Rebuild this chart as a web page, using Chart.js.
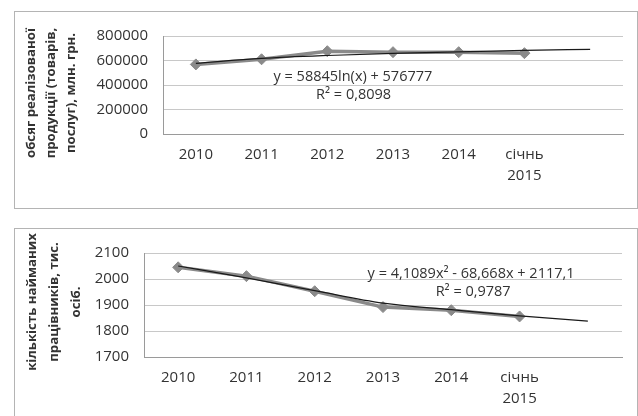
<html><head><meta charset="UTF-8">
<title>Обсяг продукції та кількість працівників</title>
<script src="https://cdn.jsdelivr.net/npm/chart.js"></script>
<style>
body {
  margin: 0;
  width: 638px;
  height: 416px;
  overflow: hidden;
  background: #ffffff;
  position: relative;
  font-family: 'Open Sans', sans-serif;
}
.box {
  position: absolute;
  left: 14px;
  width: 622px;
  border: 1px solid #b4b4b4;
  background: white;
}
#box1 { top: 11px; height: 196px; }
#box2 { top: 228px; height: 200px; }
canvas { display: block; }
</style>
</head>
<body>
<div class="box" id="box1"><canvas id="salesChart" width="622" height="196"></canvas></div>
<div class="box" id="box2"><canvas id="staffChart" width="622" height="188"></canvas></div>

<script>
// categories (last one is the forecast slot for the trend line)
const years = ['2010', '2011', '2012', '2013', '2014', ['січнь', '2015'], ''];

// top chart: sales volume, mln UAH
const salesValues = [568000, 610000, 676000, 668000, 668000, 660000, null];
const salesTrend = [577000, 617000, 641000, 658000, 671000, 682000, 691000];
const salesTicks = { min: 0, max: 800000, step: 200000 };
const salesTitle = ['обсяг реалізованої', 'продукції (товарів,', 'послуг), млн. грн.'];
const salesEq = ['y = 58845ln(x) + 576777', 'R² = 0,8098'];

// bottom chart: hired workers, thousand persons
const staffValues = [2045, 2011, 1953, 1892, 1880, 1856, null];
const staffTrend = [2050, 2004, 1955, 1907, 1882, 1858, 1838];
const staffTicks = { min: 1700, max: 2100, step: 100 };
const staffTitle = ['кількість найманих', 'працівників, тис.', 'осіб.'];
const staffEq = ['y = 4,1089x² - 68,668x + 2117,1', 'R² = 0,9787'];

const textColor = '#333333';

// draws rotated y title and the trend equation text
const extraText = {
  id: 'extraText',
  afterDraw(chart, args, opts) {
    const ctx = chart.ctx;
    const x = chart.scales.x, y = chart.scales.y;
    ctx.save();
    ctx.fillStyle = textColor;
    ctx.textAlign = 'center';
    ctx.textBaseline = 'middle';

    ctx.font = 'bold 13.2px "Open Sans"';
    opts.title.forEach((line, i) => {
      ctx.save();
      ctx.translate(opts.titleX + i * opts.titleGap, opts.titleY);
      ctx.rotate(-Math.PI / 2);
      ctx.fillText(line, 0, 0);
      ctx.restore();
    });

    ctx.font = '14.5px "Open Sans"';
    opts.eq.forEach((line, i) => {
      const p = opts.eqPos[i];
      ctx.fillText(line, x.getPixelForValue(p[0]), y.getPixelForValue(p[1]));
    });
    ctx.restore();
  }
};

function makeChart(id, values, trend, ticks, opt) {
  return new Chart(document.getElementById(id), {
    type: 'line',
    data: {
      labels: years,
      datasets: [
        {
          data: trend,
          borderColor: '#1a1a1a',
          borderWidth: 1.2,
          pointRadius: 0,
          tension: 0.4,
          cubicInterpolationMode: 'monotone',
          order: 0
        },
        {
          data: values,
          borderColor: '#8a8a8a',
          backgroundColor: '#8a8a8a',
          borderWidth: 3.5,
          pointStyle: 'rectRot',
          pointRadius: 5.5,
          pointBorderWidth: 1,
          tension: 0,
          order: 1
        }
      ]
    },
    options: {
      responsive: false,
      animation: false,
      layout: { padding: { left: 0, right: opt.padRight, top: 16, bottom: 0 } },
      plugins: {
        legend: { display: false },
        tooltip: { enabled: false },
        extraText: opt.text
      },
      scales: {
        x: {
          offset: true,
          grid: { display: false, drawTicks: false },
          border: { display: true, color: '#9a9a9a', width: 1 },
          ticks: {
            color: textColor,
            padding: 11,
            maxRotation: 0,
            autoSkip: false,
            font: { family: 'Open Sans', size: 15, lineHeight: 1.35 }
          },
          afterFit: s => { s.height = opt.xHeight; }
        },
        y: {
          min: ticks.min,
          max: ticks.max,
          grid: { color: '#c8c8c8', lineWidth: 1, drawTicks: false },
          border: { display: true, color: '#9a9a9a', width: 1 },
          ticks: {
            stepSize: ticks.step,
            color: textColor,
            padding: 15,
            font: { family: 'Open Sans', size: 15 },
            callback: v => String(v)
          },
          afterFit: s => { s.width = opt.yWidth; }
        }
      }
    },
    plugins: [extraText]
  });
}

document.addEventListener('DOMContentLoaded', () => {
  makeChart('salesChart', salesValues, salesTrend, salesTicks, {
    padRight: 14, xHeight: 74, yWidth: 148,
    text: {
      title: salesTitle, titleX: 16, titleY: 81, titleGap: 20,
      eq: salesEq, eqPos: [[2.39, 468000], [2.4, 317000]]
    }
  });

  makeChart('staffChart', staffValues, staffTrend, staffTicks, {
    padRight: 15, xHeight: 60, yWidth: 129,
    text: {
      title: staffTitle, titleX: 17, titleY: 73, titleGap: 22,
      eq: staffEq, eqPos: [[4.29, 2021], [4.32, 1950]]
    }
  });
});
</script>
</body></html>
